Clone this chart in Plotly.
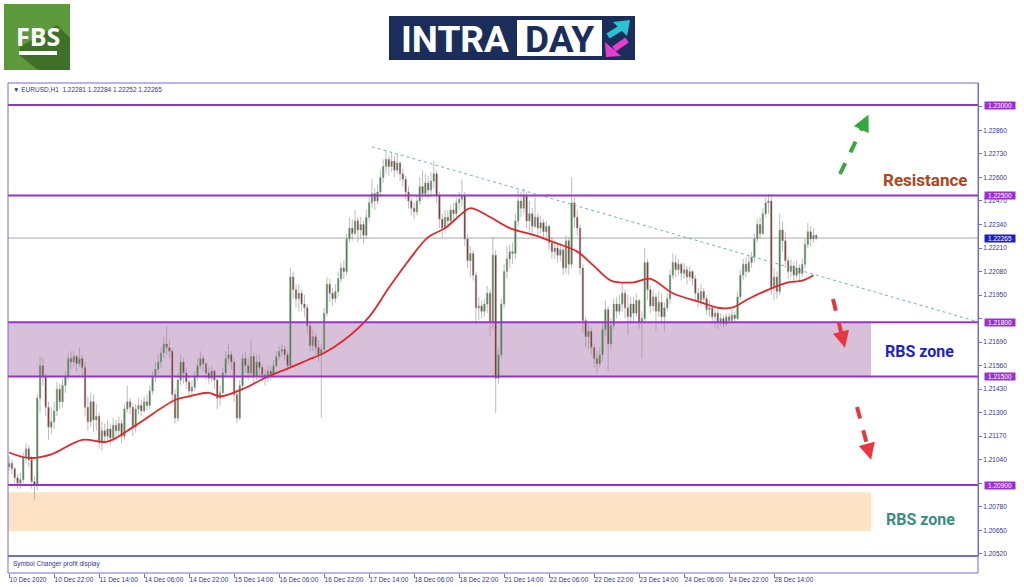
import plotly.graph_objects as go

# MT4 look
FRAME      = "#6f6fd2"
LEVEL_CLR  = "#9b30d0"
AXIS_TEXT  = "#33338f"
BULL       = "#238a2e"
BEAR       = "#861515"
WICK       = "#8e8e8e"
MA_RED     = "#e3262b"
TREND_CLR  = "#6fb0c4"
ZONE_PURP  = "#d9c0da"
ZONE_PEACH = "#fde2c6"
FONT       = "Liberation Sans, Arial, sans-serif"

# ---- data (EURUSD H1) ----
FIRST_OPEN = 1.2100
CLOSE = [
    1.2102, 1.2099, 1.2094, 1.2091, 1.2093, 1.2105, 1.2110, 1.2104, 1.2092, 1.2090,
    1.2138, 1.2156, 1.2150, 1.2133, 1.2122, 1.2125, 1.2131, 1.2143, 1.2136, 1.2145,
    1.2150, 1.2160, 1.2158, 1.2161, 1.2157, 1.2160, 1.2155, 1.2133, 1.2125, 1.2136,
    1.2126, 1.2128, 1.2114, 1.2120, 1.2117, 1.2121, 1.2116, 1.2123, 1.2120, 1.2124,
    1.2117, 1.2132, 1.2136, 1.2133, 1.2122, 1.2132, 1.2134, 1.2131, 1.2136, 1.2134,
    1.2142, 1.2150, 1.2154, 1.2158, 1.2163, 1.2168, 1.2166, 1.2164, 1.2140, 1.2127,
    1.2148, 1.2158, 1.2152, 1.2147, 1.2142, 1.2144, 1.2150, 1.2156, 1.2160, 1.2157,
    1.2152, 1.2149, 1.2153, 1.2148, 1.2138, 1.2141, 1.2152, 1.2160, 1.2162, 1.2158,
    1.2140, 1.2127, 1.2145, 1.2160, 1.2156, 1.2152, 1.2161, 1.2150, 1.2158, 1.2155,
    1.2151, 1.2149, 1.2153, 1.2151, 1.2156, 1.2161, 1.2164, 1.2165, 1.2162, 1.2156,
    1.2205, 1.2198, 1.2193, 1.2196, 1.2190, 1.2188, 1.2178, 1.2167, 1.2172, 1.2166,
    1.2162, 1.2165, 1.2185, 1.2201, 1.2196, 1.2193, 1.2197, 1.2204, 1.2210, 1.2208,
    1.2226, 1.2232, 1.2229, 1.2236, 1.2231, 1.2234, 1.2228, 1.2238, 1.2246, 1.2251,
    1.2247, 1.2252, 1.2260, 1.2266, 1.2270, 1.2266, 1.2269, 1.2264, 1.2268, 1.2262,
    1.2259, 1.2252, 1.2247, 1.2243, 1.2241, 1.2247, 1.2255, 1.2251, 1.2257, 1.2253,
    1.2258, 1.2262, 1.2250, 1.2237, 1.2232, 1.2238, 1.2236, 1.2242, 1.2240, 1.2246,
    1.2248, 1.2250, 1.2226, 1.2214, 1.2218, 1.2206, 1.2188, 1.2189, 1.2186, 1.2190,
    1.2196, 1.2180, 1.2217, 1.2149, 1.2162, 1.2190, 1.2208, 1.2215, 1.2219, 1.2218,
    1.2236, 1.2247, 1.2243, 1.2250, 1.2236, 1.2240, 1.2233, 1.2238, 1.2232, 1.2235,
    1.2230, 1.2233, 1.2224, 1.2219, 1.2221, 1.2217, 1.2220, 1.2210, 1.2225, 1.2212,
    1.2246, 1.2238, 1.2232, 1.2210, 1.2181, 1.2172, 1.2175, 1.2166, 1.2160, 1.2157,
    1.2162, 1.2176, 1.2187, 1.2168, 1.2178, 1.2190, 1.2186, 1.2190, 1.2196, 1.2188,
    1.2183, 1.2190, 1.2185, 1.2192, 1.2180, 1.2182, 1.2213, 1.2198, 1.2189, 1.2194,
    1.2186, 1.2191, 1.2183, 1.2188, 1.2193, 1.2206, 1.2213, 1.2209, 1.2212, 1.2207,
    1.2209, 1.2205, 1.2208, 1.2204, 1.2196, 1.2192, 1.2197, 1.2193, 1.2187, 1.2188,
    1.2183, 1.2185, 1.2180, 1.2182, 1.2179, 1.2183, 1.2181, 1.2184, 1.2182, 1.2194,
    1.2206, 1.2212, 1.2208, 1.2213, 1.2216, 1.2226, 1.2234, 1.2229, 1.2240, 1.2246,
    1.2247, 1.2199, 1.2205, 1.2197, 1.2231, 1.2225, 1.2214, 1.2208, 1.2211, 1.2206,
    1.2210, 1.2207, 1.2212, 1.2223, 1.2230, 1.2226, 1.22281, 1.22265,
]
HIGH = [
    1.2106, 1.2104, 1.2100, 1.2096, 1.2097, 1.2108, 1.2113, 1.2112, 1.2106, 1.2095,
    1.2140, 1.2161, 1.2160, 1.2152, 1.2136, 1.2133, 1.2136, 1.2147, 1.2146, 1.2149,
    1.2153, 1.2163, 1.2164, 1.2164, 1.2162, 1.2166, 1.2162, 1.2158, 1.2139, 1.2141,
    1.2140, 1.2135, 1.2130, 1.2125, 1.2124, 1.2126, 1.2124, 1.2127, 1.2126, 1.2128,
    1.2126, 1.2135, 1.2145, 1.2138, 1.2135, 1.2135, 1.2138, 1.2137, 1.2139, 1.2140,
    1.2145, 1.2153, 1.2158, 1.2162, 1.2166, 1.2172, 1.2178, 1.2170, 1.2166, 1.2143,
    1.2152, 1.2162, 1.2160, 1.2155, 1.2150, 1.2148, 1.2153, 1.2160, 1.2164, 1.2162,
    1.2158, 1.2155, 1.2156, 1.2154, 1.2149, 1.2145, 1.2155, 1.2164, 1.2168, 1.2164,
    1.2160, 1.2143, 1.2148, 1.2163, 1.2164, 1.2160, 1.2170, 1.2163, 1.2162, 1.2162,
    1.2157, 1.2154, 1.2156, 1.2156, 1.2159, 1.2164, 1.2167, 1.2168, 1.2167, 1.2164,
    1.2210, 1.2208, 1.2201, 1.2201, 1.2198, 1.2195, 1.2190, 1.2180, 1.2176, 1.2174,
    1.2170, 1.2168, 1.2188, 1.2205, 1.2204, 1.2199, 1.2201, 1.2208, 1.2213, 1.2214,
    1.2229, 1.2238, 1.2237, 1.2242, 1.2238, 1.2238, 1.2236, 1.2242, 1.2250, 1.2259,
    1.2254, 1.2256, 1.2264, 1.2270, 1.2275, 1.2272, 1.2274, 1.2272, 1.2273, 1.2269,
    1.2265, 1.2261, 1.2255, 1.2249, 1.2246, 1.2250, 1.2260, 1.2264, 1.2262, 1.2261,
    1.2263, 1.2269, 1.2264, 1.2252, 1.2240, 1.2242, 1.2242, 1.2245, 1.2246, 1.2249,
    1.2252, 1.2259, 1.2252, 1.2229, 1.2222, 1.2220, 1.2208, 1.2194, 1.2192, 1.2193,
    1.2200, 1.2198, 1.2227, 1.2220, 1.2166, 1.2193, 1.2212, 1.2222, 1.2223, 1.2224,
    1.2240, 1.2253, 1.2252, 1.2254, 1.2252, 1.2247, 1.2243, 1.2249, 1.2240, 1.2239,
    1.2237, 1.2236, 1.2234, 1.2227, 1.2225, 1.2223, 1.2224, 1.2222, 1.2228, 1.2227,
    1.2260, 1.2249, 1.2242, 1.2234, 1.2212, 1.2183, 1.2179, 1.2177, 1.2168, 1.2164,
    1.2166, 1.2180, 1.2192, 1.2189, 1.2182, 1.2193, 1.2194, 1.2195, 1.2202, 1.2198,
    1.2195, 1.2194, 1.2194, 1.2196, 1.2193, 1.2186, 1.2221, 1.2215, 1.2200, 1.2198,
    1.2196, 1.2197, 1.2196, 1.2191, 1.2196, 1.2209, 1.2218, 1.2217, 1.2215, 1.2213,
    1.2213, 1.2211, 1.2211, 1.2209, 1.2206, 1.2199, 1.2201, 1.2199, 1.2195, 1.2192,
    1.2189, 1.2189, 1.2187, 1.2185, 1.2184, 1.2185, 1.2185, 1.2187, 1.2186, 1.2197,
    1.2209, 1.2215, 1.2216, 1.2217, 1.2219, 1.2229, 1.2237, 1.2238, 1.2243, 1.2249,
    1.2251, 1.2250, 1.2210, 1.2208, 1.2240, 1.2236, 1.2230, 1.2216, 1.2215, 1.2213,
    1.2214, 1.2212, 1.2215, 1.2226, 1.2235, 1.2233, 1.2232, 1.22284,
]
LOW = [
    1.2098, 1.2096, 1.2091, 1.2088, 1.2088, 1.2091, 1.2102, 1.2100, 1.2088, 1.2082,
    1.2087, 1.2130, 1.2145, 1.2128, 1.2115, 1.2118, 1.2121, 1.2128, 1.2132, 1.2133,
    1.2141, 1.2148, 1.2154, 1.2155, 1.2153, 1.2155, 1.2150, 1.2128, 1.2120, 1.2122,
    1.2119, 1.2120, 1.2110, 1.2109, 1.2113, 1.2114, 1.2112, 1.2114, 1.2115, 1.2117,
    1.2113, 1.2115, 1.2130, 1.2129, 1.2117, 1.2119, 1.2129, 1.2128, 1.2130, 1.2131,
    1.2132, 1.2140, 1.2147, 1.2151, 1.2155, 1.2160, 1.2162, 1.2160, 1.2136, 1.2124,
    1.2125, 1.2145, 1.2146, 1.2143, 1.2138, 1.2139, 1.2142, 1.2148, 1.2154, 1.2153,
    1.2148, 1.2146, 1.2147, 1.2143, 1.2132, 1.2134, 1.2140, 1.2150, 1.2157, 1.2154,
    1.2136, 1.2124, 1.2126, 1.2143, 1.2152, 1.2148, 1.2150, 1.2146, 1.2148, 1.2150,
    1.2147, 1.2145, 1.2147, 1.2148, 1.2149, 1.2155, 1.2159, 1.2161, 1.2159, 1.2153,
    1.2154, 1.2193, 1.2188, 1.2186, 1.2186, 1.2183, 1.2174, 1.2164, 1.2164, 1.2162,
    1.2158, 1.2127, 1.2162, 1.2183, 1.2191, 1.2189, 1.2191, 1.2194, 1.2202, 1.2204,
    1.2206, 1.2224, 1.2225, 1.2228, 1.2224, 1.2226, 1.2223, 1.2226, 1.2236, 1.2243,
    1.2242, 1.2245, 1.2249, 1.2257, 1.2262, 1.2261, 1.2263, 1.2260, 1.2262, 1.2258,
    1.2255, 1.2248, 1.2243, 1.2239, 1.2237, 1.2239, 1.2245, 1.2248, 1.2249, 1.2248,
    1.2250, 1.2254, 1.2246, 1.2232, 1.2227, 1.2229, 1.2232, 1.2234, 1.2236, 1.2238,
    1.2242, 1.2244, 1.2222, 1.2210, 1.2205, 1.2203, 1.2179, 1.2181, 1.2182, 1.2183,
    1.2185, 1.2172, 1.2176, 1.2130, 1.2146, 1.2160, 1.2188, 1.2204, 1.2210, 1.2212,
    1.2215, 1.2233, 1.2238, 1.2240, 1.2232, 1.2230, 1.2229, 1.2232, 1.2228, 1.2229,
    1.2226, 1.2227, 1.2220, 1.2215, 1.2215, 1.2213, 1.2214, 1.2206, 1.2207, 1.2206,
    1.2210, 1.2232, 1.2228, 1.2206, 1.2174, 1.2166, 1.2165, 1.2162, 1.2155, 1.2152,
    1.2155, 1.2158, 1.2172, 1.2153, 1.2165, 1.2176, 1.2182, 1.2184, 1.2186, 1.2182,
    1.2173, 1.2179, 1.2180, 1.2183, 1.2176, 1.2160, 1.2180, 1.2192, 1.2185, 1.2186,
    1.2175, 1.2183, 1.2179, 1.2175, 1.2186, 1.2190, 1.2204, 1.2205, 1.2206, 1.2203,
    1.2204, 1.2201, 1.2203, 1.2200, 1.2192, 1.2188, 1.2189, 1.2190, 1.2184, 1.2183,
    1.2179, 1.2177, 1.2176, 1.2178, 1.2177, 1.2178, 1.2179, 1.2180, 1.2180, 1.2181,
    1.2192, 1.2203, 1.2205, 1.2207, 1.2210, 1.2213, 1.2224, 1.2226, 1.2228, 1.2238,
    1.2240, 1.2195, 1.2192, 1.2193, 1.2195, 1.2219, 1.2210, 1.2204, 1.2205, 1.2202,
    1.2204, 1.2203, 1.2205, 1.2210, 1.2221, 1.2222, 1.2224, 1.22252,
]
OPEN = [FIRST_OPEN] + CLOSE[:-1]   # FX bars open at the previous close
BARS = list(range(len(CLOSE)))

# moving average, read at a handful of bars
MA_X = [0, 7, 15, 26, 35, 45, 59, 64, 71, 75, 83, 92, 100, 106, 112, 119, 128, 135,
        142, 149, 155, 161, 164, 170, 178, 187, 194, 202, 208, 214, 222, 228, 236,
        246, 252, 257, 263, 270, 277, 282, 286]
MA_Y = [1.2108, 1.2105, 1.2107, 1.2115, 1.2114, 1.2123, 1.2137, 1.2139, 1.2141,
        1.2139, 1.2143, 1.2150, 1.2155, 1.2159, 1.2163, 1.2170, 1.2183, 1.2199,
        1.2214, 1.2227, 1.2232, 1.2240, 1.2243, 1.2239, 1.2232, 1.2228, 1.2224,
        1.2219, 1.2211, 1.2203, 1.2202, 1.2204, 1.2196, 1.2191, 1.2188, 1.2188,
        1.2193, 1.2198, 1.2202, 1.2203, 1.2206]

TREND_X = [129, 345]
TREND_Y = [1.2277, 1.2180]

LEVELS      = [1.23000, 1.22500, 1.21800, 1.21500, 1.20900]
LAST_PRICE  = 1.22265
PURPLE_ZONE = (1.2150, 1.2180)
PEACH_ZONE  = (1.20646, 1.20861)
ZONE_END    = 306.5

X_TICK_POS = [0, 16, 32, 48, 64, 80, 96, 112, 128, 144, 160, 176, 192, 208, 224, 240, 256, 272]
X_TICK_TEXT = ["10 Dec 2020", "10 Dec 22:00", "11 Dec 14:00", "14 Dec 06:00", "14 Dec 22:00",
               "15 Dec 14:00", "16 Dec 06:00", "16 Dec 22:00", "17 Dec 14:00", "18 Dec 06:00",
               "18 Dec 22:00", "21 Dec 14:00", "22 Dec 06:00", "22 Dec 22:00", "23 Dec 14:00",
               "24 Dec 06:00", "24 Dec 22:00", "28 Dec 14:00"]
Y_TICKS = [1.20520, 1.20650, 1.20780, 1.20910, 1.21040, 1.21170, 1.21300, 1.21430,
           1.21560, 1.21690, 1.21820, 1.21950, 1.22080, 1.22210, 1.22340, 1.22470,
           1.22600, 1.22730, 1.22860, 1.22990]
# ticks whose label sits under a level box
Y_HIDDEN = [1.20910, 1.21820, 1.22990]

# ---- page geometry (pixels -> paper) ----
W, H = 1024, 587
ML, MR, MT, MB = 8, 46, 83, 14


def fx(px):
    return (px - ML) / (W - ML - MR)


def fy(py):
    return (H - MB - py) / (H - MT - MB)


def note(x, y, text, size, color, family=FONT, xanchor="center"):
    return dict(xref="paper", yref="paper", x=fx(x), y=fy(y), text=text, showarrow=False,
                xanchor=xanchor, yanchor="middle",
                font=dict(family=family, size=size, color=color))


fig = go.Figure()
fig.add_trace(go.Candlestick(
    x=BARS, open=OPEN, high=HIGH, low=LOW, close=CLOSE,
    increasing=dict(fillcolor=BULL, line=dict(color=WICK, width=0.6)),
    decreasing=dict(fillcolor=BEAR, line=dict(color=WICK, width=0.6)),
    whiskerwidth=0, showlegend=False, hoverinfo="skip",
))
fig.add_trace(go.Scatter(
    x=MA_X, y=MA_Y, mode="lines", line=dict(color=MA_RED, width=1.8, shape="spline"),
    showlegend=False, hoverinfo="skip",
))
fig.add_trace(go.Scatter(
    x=TREND_X, y=TREND_Y, mode="lines", line=dict(color=TREND_CLR, width=1, dash="dot"),
    showlegend=False, hoverinfo="skip",
))

shapes = []
# zones
for (lo, hi), col in [(PURPLE_ZONE, ZONE_PURP), (PEACH_ZONE, ZONE_PEACH)]:
    shapes.append(dict(type="rect", xref="x", yref="y", x0=-0.4, x1=ZONE_END, y0=lo, y1=hi,
                       fillcolor=col, line_width=0, layer="below"))
# levels
for lv in LEVELS:
    shapes.append(dict(type="line", xref="paper", yref="y", x0=0, x1=1, y0=lv, y1=lv,
                       line=dict(color=LEVEL_CLR, width=2)))
shapes.append(dict(type="line", xref="paper", yref="y", x0=0, x1=1, y0=LAST_PRICE, y1=LAST_PRICE,
                   line=dict(color="#a9a9a9", width=1), layer="below"))
# frame and indicator sub-window
shapes.append(dict(type="rect", xref="paper", yref="paper", x0=0, x1=1, y0=0, y1=1,
                   line=dict(color=FRAME, width=1)))
shapes.append(dict(type="line", xref="paper", yref="paper", x0=0, x1=1, y0=fy(556), y1=fy(556),
                   line=dict(color=FRAME, width=2)))

# dashed direction arrows
ARROWS = [((840, 174), (865, 122), "#35a83f"),
          ((833, 299), (843, 340), "#e8383d"),
          ((857, 407), (869, 452), "#e8383d")]
annotations = []
for (x0, y0), (x1, y1), col in ARROWS:
    shapes.append(dict(type="line", xref="paper", yref="paper", x0=fx(x0), y0=fy(y0),
                       x1=fx(x1), y1=fy(y1), line=dict(color=col, width=4, dash="dash")))
    dx, dy = x1 - x0, y1 - y0
    n = (dx * dx + dy * dy) ** 0.5
    annotations.append(dict(xref="paper", yref="paper", x=fx(x1 + dx / n * 8), y=fy(y1 + dy / n * 8),
                            ax=-dx / n * 10, ay=-dy / n * 10, showarrow=True, arrowhead=2,
                            arrowsize=1.1, arrowwidth=3, arrowcolor=col, text=""))

# FBS logo
shapes += [
    dict(type="rect", xref="paper", yref="paper", x0=fx(4), x1=fx(70), y0=fy(70), y1=fy(4),
         fillcolor="#5c9a3c", line_width=0),
    dict(type="path", xref="paper", yref="paper",
         path=f"M {fx(20)} {fy(47)} L {fx(57)} {fy(25)} L {fx(70)} {fy(38)} L {fx(70)} {fy(70)} "
              f"L {fx(38)} {fy(70)} L {fx(19)} {fy(55)} Z",
         fillcolor="#3f7027", line_width=0),
    dict(type="rect", xref="paper", yref="paper", x0=fx(19), x1=fx(57), y0=fy(55), y1=fy(51),
         fillcolor="white", line_width=0),
]
annotations.append(note(38, 36, "<b>FBS</b>", 25, "white", family="Open Sans"))

# INTRADAY logo
shapes += [
    dict(type="rect", xref="paper", yref="paper", x0=fx(389), x1=fx(635), y0=fy(60), y1=fy(16),
         fillcolor="#1b2d5a", line_width=0),
    dict(type="rect", xref="paper", yref="paper", x0=fx(517), x1=fx(602), y0=fy(56), y1=fy(20),
         fillcolor="white", line_width=0),
    dict(type="line", xref="paper", yref="paper", x0=fx(608), y0=fy(36), x1=fx(621), y1=fy(28),
         line=dict(color="#27c3d3", width=6)),
    dict(type="path", xref="paper", yref="paper",
         path=f"M {fx(613)} {fy(22)} L {fx(630)} {fy(20)} L {fx(627)} {fy(36)} Z",
         fillcolor="#27c3d3", line_width=0),
    dict(type="line", xref="paper", yref="paper", x0=fx(627), y0=fy(40), x1=fx(614), y1=fy(49),
         line=dict(color="#e83ed0", width=6)),
    dict(type="path", xref="paper", yref="paper",
         path=f"M {fx(605)} {fy(42)} L {fx(606)} {fy(57)} L {fx(621)} {fy(56)} Z",
         fillcolor="#e83ed0", line_width=0),
]
annotations += [
    note(455, 39, "<b>INTRA</b>", 37, "white", family="Roboto"),
    note(559, 39, "<b>DAY</b>", 37, "#1b2d5a", family="Roboto"),
]

# chart texts
annotations += [
    note(11, 89, "▼ EURUSD,H1\u00a0\u00a01.22281 1.22284 1.22252 1.22265", 6.5, AXIS_TEXT,
         xanchor="left"),
    note(11, 564, "Symbol Changer profit display", 6.5, AXIS_TEXT, xanchor="left"),
    note(925, 180, "<b>Resistance</b>", 17, "#b4431b", family="Roboto"),
    note(919, 352, "<b>RBS zone</b>", 16, "#1e1ed2", family="Roboto"),
    note(920, 519, "<b>RBS zone</b>", 16, "#3c8c84", family="Roboto"),
]

# highlighted price labels on the axis
for lv, bg in [(v, LEVEL_CLR) for v in LEVELS] + [(LAST_PRICE, "#1c1cc8")]:
    annotations.append(dict(xref="paper", yref="y", x=1, y=lv, xanchor="left", yanchor="middle",
                            xshift=6, showarrow=False, text=f"{lv:.5f}", bgcolor=bg, width=30,
                            height=7, borderpad=0,
                            font=dict(family=FONT, size=6.5, color="white")))

fig.update_layout(
    width=W, height=H, margin=dict(l=ML, r=MR, t=MT, b=MB, autoexpand=False),
    paper_bgcolor="white", plot_bgcolor="white", showlegend=False,
    font=dict(family=FONT, color=AXIS_TEXT),
    xaxis=dict(range=[-0.4, 344.5], tickvals=X_TICK_POS, ticktext=X_TICK_TEXT,
               ticks="outside", ticklen=4, tickcolor=FRAME, ticklabelposition="outside right",
               tickangle=0, automargin=False,
               tickfont=dict(size=6.5, color=AXIS_TEXT), showgrid=False, zeroline=False,
               showline=False, anchor="free", position=0, rangeslider=dict(visible=False),
               fixedrange=True),
    yaxis=dict(domain=[fy(556), 1], range=[1.20508, 1.23122], side="right",
               tickvals=Y_TICKS,
               ticktext=["" if v in Y_HIDDEN else f"{v:.5f}" for v in Y_TICKS],
               ticks="outside", ticklen=3, tickcolor=FRAME, showline=True, linecolor=FRAME,
               automargin=False,
               tickfont=dict(size=6.5, color=AXIS_TEXT), showgrid=False, zeroline=False,
               fixedrange=True),
    shapes=shapes, annotations=annotations,
)

# the page gets the figure at its top-left corner, without the default body margin
fig.write_html("out.html", config={"displayModeBar": False},
               post_script="document.body.style.margin='0';")
